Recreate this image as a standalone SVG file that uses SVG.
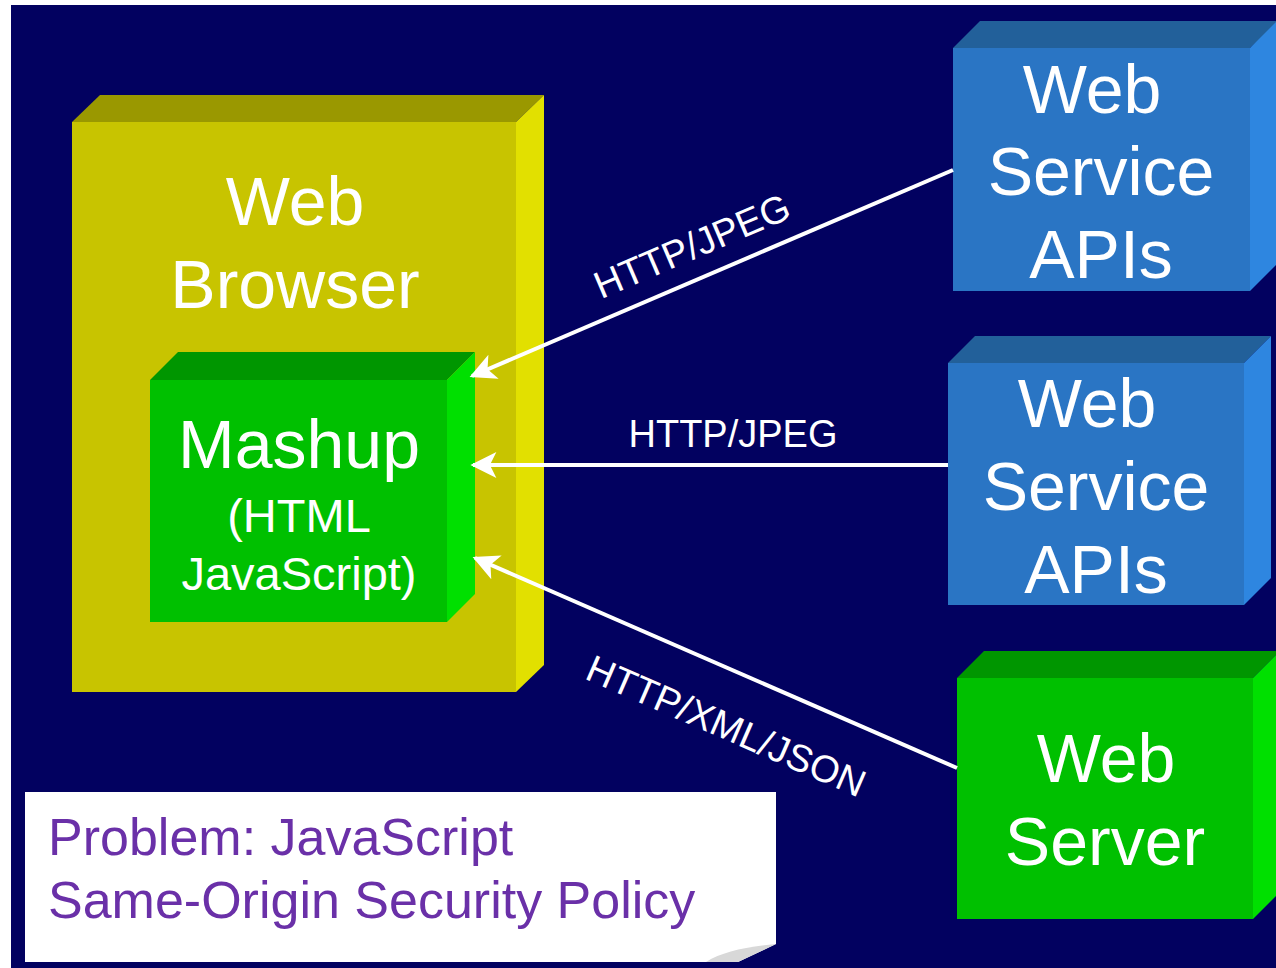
<svg xmlns="http://www.w3.org/2000/svg" width="1276" height="968" viewBox="0 0 1276 968">
  <defs>
    <style>
      .lbl { font-family: "Liberation Sans", Arial, sans-serif; fill: #ffffff; text-anchor: middle; }
      .big { font-size: 68px; }
      .mid { font-size: 47px; }
      .conn { font-family: "Liberation Sans", Arial, sans-serif; fill: #ffffff; font-size: 38px; text-anchor: middle; }
      .wire { stroke: #ffffff; stroke-width: 4; fill: none; }
      .yf { fill: #c8c400; } .yt { fill: #9a9800; } .yr { fill: #e2e000; }
      .gf { fill: #00c000; } .gt { fill: #009600; } .gr { fill: #00e000; }
      .bf { fill: #2a75c4; } .bt { fill: #22609a; } .br { fill: #2e86e0; }
      .note { font-family: "Liberation Sans", Arial, sans-serif; fill: #6a30a8; font-size: 52px; }
    </style>
    <marker id="head" viewBox="0 0 10 10" refX="9" refY="5" markerWidth="8" markerHeight="6.5" markerUnits="strokeWidth" orient="auto">
      <path d="M0,0 L10,5 L0,10 L2.5,5 Z" fill="#ffffff"/>
    </marker>
  </defs>

  <rect x="0" y="0" width="1276" height="968" fill="#ffffff"/>
  <rect x="11" y="5" width="1265" height="963" fill="#020160"/>

  <g id="web-browser">
    <polygon class="yt" points="72,122 100,95 544,95 516,122"/>
    <polygon class="yr" points="516,122 544,95 544,665 516,692"/>
    <rect class="yf" x="72" y="122" width="444" height="570"/>
    <text class="lbl big" x="295" y="225">Web</text>
    <text class="lbl big" x="295" y="308">Browser</text>
  </g>

  <g id="mashup">
    <polygon class="gt" points="150,380 178,352 475,352 447,380"/>
    <polygon class="gr" points="447,380 475,352 475,594 447,622"/>
    <rect class="gf" x="150" y="380" width="297" height="242"/>
    <text class="lbl big" x="299" y="468">Mashup</text>
    <text class="lbl mid" x="299" y="532">(HTML</text>
    <text class="lbl mid" x="299" y="590">JavaScript)</text>
  </g>

  <g id="web-service-apis-1">
    <polygon class="bt" points="953,48 980,21 1280,21 1250,48"/>
    <polygon class="br" points="1250,48 1277,21 1277,264 1250,291"/>
    <rect class="bf" x="953" y="48" width="297" height="243"/>
    <text class="lbl big" x="1092" y="113">Web</text>
    <text class="lbl big" x="1101" y="195">Service</text>
    <text class="lbl big" x="1101" y="278">APIs</text>
  </g>

  <g id="web-service-apis-2">
    <polygon class="bt" points="948,363 975,336 1271,336 1244,363"/>
    <polygon class="br" points="1244,363 1271,336 1271,578 1244,605"/>
    <rect class="bf" x="948" y="363" width="296" height="242"/>
    <text class="lbl big" x="1087" y="427">Web</text>
    <text class="lbl big" x="1096" y="510">Service</text>
    <text class="lbl big" x="1096" y="593">APIs</text>
  </g>

  <g id="web-server">
    <polygon class="gt" points="957,678 984,651 1280,651 1253,678"/>
    <polygon class="gr" points="1253,678 1280,651 1280,892 1253,919"/>
    <rect class="gf" x="957" y="678" width="296" height="241"/>
    <text class="lbl big" x="1106" y="782">Web</text>
    <text class="lbl big" x="1105" y="865">Server</text>
  </g>

  <g id="connectors">
    <line class="wire" x1="953" y1="170" x2="472" y2="376" marker-end="url(#head)"/>
    <line class="wire" x1="948" y1="465" x2="473" y2="465" marker-end="url(#head)"/>
    <line class="wire" x1="957" y1="768" x2="475" y2="558" marker-end="url(#head)"/>
    <text class="conn" transform="translate(697,258) rotate(-23.2)">HTTP/JPEG</text>
    <text class="conn" x="733" y="447">HTTP/JPEG</text>
    <text class="conn" transform="translate(721,738) rotate(23.5)">HTTP/XML/JSON</text>
  </g>

  <g id="problem-note">
    <path d="M25,792 H776 V944 L738,962 H25 Z" fill="#ffffff"/>
    <path d="M706,962 C722,952 745,947 776,944 L738,962 Z" fill="#d8d8d8"/>
    <text class="note" x="48" y="855">Problem: JavaScript</text>
    <text class="note" x="48" y="918">Same-Origin Security Policy</text>
  </g>
</svg>
